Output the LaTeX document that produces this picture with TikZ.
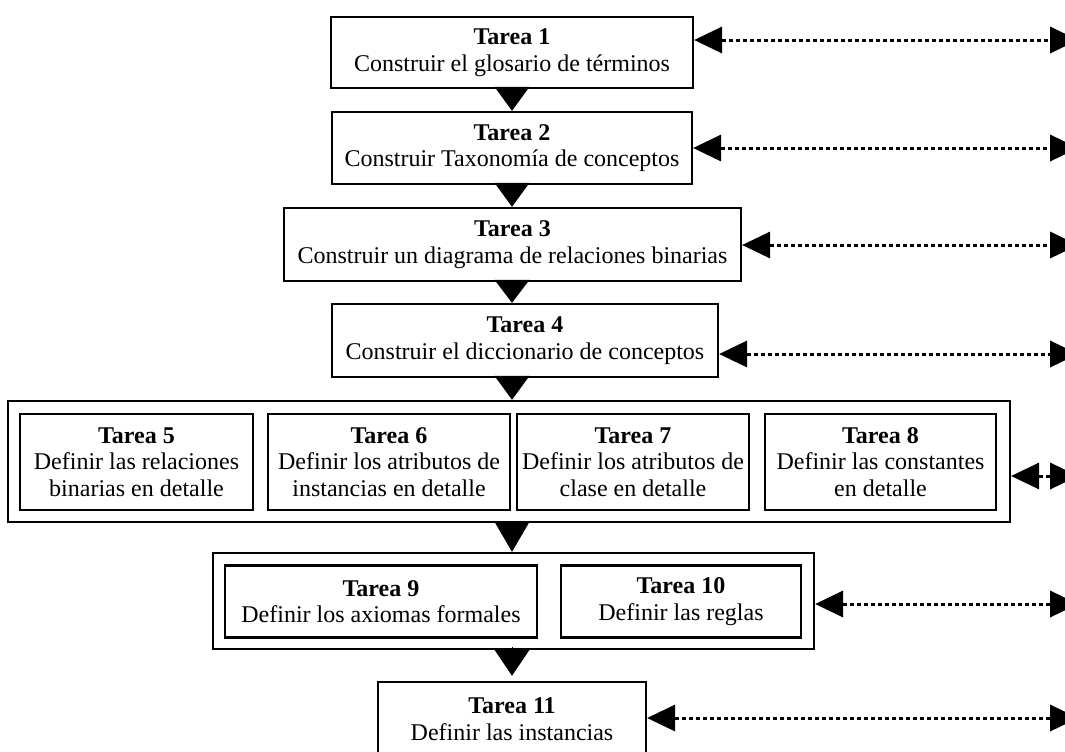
\documentclass[tikz,border=0pt]{standalone}
\usepackage{fontspec}
\setmainfont{Liberation Serif}
\usetikzlibrary{arrows.meta}

\tikzset{
  taskbox/.style={draw, line width=1.2pt, rectangle, inner sep=0pt, align=center,
    font=\fontsize{12pt}{13.25pt}\selectfont},
  groupbox/.style={draw, line width=1.2pt, rectangle, inner sep=0pt},
  flow/.style={line width=0.1pt, >={Triangle[width=17.5pt, line width=0pt]}},
  link/.style={line width=1.5pt, dash pattern=on 2pt off 1.5pt,
    {Triangle[length=14pt, width=13.5pt, line width=0pt]}-{Triangle[length=14pt, width=13.5pt, line width=0pt]}},
}

\begin{document}
\begin{tikzpicture}[x=0.5pt, y=-0.5pt]
\useasboundingbox (0,0) rectangle (1065,751);
\clip (0,0) rectangle (1065,751);

% main sequence of tasks
\node[taskbox, minimum width=181pt, minimum height=35.5pt] (b1) at (512,52.5)
  {\textbf{Tarea 1}\\Construir el glosario de términos};
\node[taskbox, minimum width=180pt, minimum height=36pt] (b2) at (512,148)
  {\textbf{Tarea 2}\\Construir Taxonomía de conceptos};
\node[taskbox, minimum width=228.5pt, minimum height=36.5pt] (b3) at (512.5,244.5)
  {\textbf{Tarea 3}\\Construir un diagrama de relaciones binarias};
\node[taskbox, minimum width=193pt, minimum height=36.5pt] (b4) at (525,340.5)
  {\textbf{Tarea 4}\\Construir el diccionario de conceptos};

% first group: tasks 5 to 8
\node[groupbox, minimum width=501pt, minimum height=60.5pt] (g1) at (509,461.5) {};
\node[taskbox, minimum width=116.5pt, minimum height=48pt] (b5) at (136.5,462)
  {\textbf{Tarea 5}\\Definir las relaciones\\binarias en detalle};
\node[taskbox, minimum width=121pt, minimum height=48pt] (b6) at (389,462)
  {\textbf{Tarea 6}\\Definir los atributos de\\instancias en detalle};
\node[taskbox, minimum width=116pt, minimum height=48pt] (b7) at (633,462)
  {\textbf{Tarea 7}\\Definir los atributos de\\clase en detalle};
\node[taskbox, minimum width=115.5pt, minimum height=48pt] (b8) at (880.5,462)
  {\textbf{Tarea 8}\\Definir las constantes\\en detalle};

% second group: tasks 9 and 10
\node[groupbox, minimum width=300.5pt, minimum height=48pt] (g2) at (513.5,601) {};
\node[taskbox, minimum width=156pt, minimum height=36pt] (b9) at (381,601.5)
  {\textbf{Tarea 9}\\Definir los axiomas formales};
\node[taskbox, minimum width=120pt, minimum height=36pt] (b10) at (681,601.5)
  {\textbf{Tarea 10}\\Definir las reglas};

% last task
\node[taskbox, minimum width=134pt, minimum height=37pt] (b11) at (512,719)
  {\textbf{Tarea 11}\\Definir las instancias};

% flow between steps
\coordinate (axis) at (512,0);
\draw[flow, -{>[length=12pt]}] (b1.south -| axis) -- (b2.north -| axis);
\draw[flow, -{>[length=12pt]}] (b2.south -| axis) -- (b3.north -| axis);
\draw[flow, -{>[length=11.5pt]}] (b3.south -| axis) -- (b4.north -| axis);
\draw[flow, -{>[length=12pt]}] (b4.south -| axis) -- (g1.north -| axis);
\draw[flow, -{>[length=15pt]}] (g1.south -| axis) -- (g2.north -| axis);
\draw[flow, -{>[length=13pt]}, shorten <=1.5pt, shorten >=2.5pt] (g2.south -| axis) -- (b11.north -| axis);

% dotted two-way links to the right margin
\coordinate (r1) at (1078,40);
\coordinate (r2) at (1078,148);
\coordinate (r3) at (1078,245);
\coordinate (r4) at (1078,354);
\coordinate (r5) at (1078,476);
\coordinate (r6) at (1078,604);
\coordinate (r7) at (1078,718);
\draw[link] (b1.east |- r1) -- (r1);
\draw[link] (b2.east |- r2) -- (r2);
\draw[link] (b3.east |- r3) -- (r3);
\draw[link] (b4.east |- r4) -- (r4);
\draw[link] (g1.east |- r5) -- (r5);
\draw[link] (g2.east |- r6) -- (r6);
\draw[link] (b11.east |- r7) -- (r7);
\end{tikzpicture}
\end{document}
